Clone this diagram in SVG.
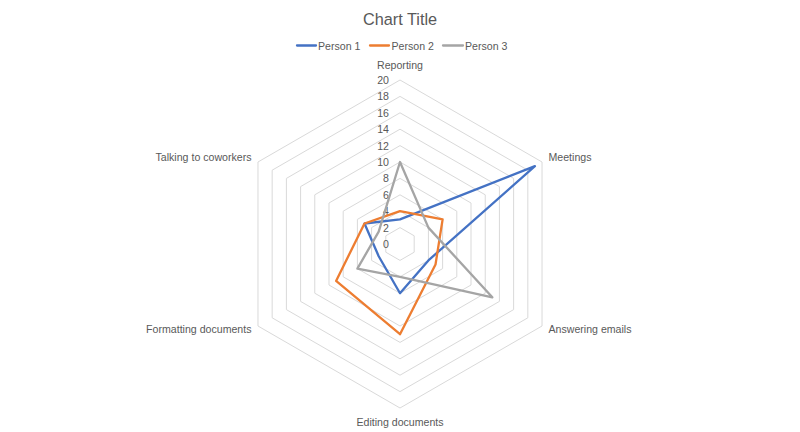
<svg xmlns="http://www.w3.org/2000/svg" width="800" height="432" viewBox="0 0 800 432">
<style>
text{font-family:"Liberation Sans",Arial,sans-serif;fill:#595959}
.t{font-size:16.3px}
.l{font-size:10.6px}
.v{font-size:10.6px;text-anchor:end}
.g{fill:none;stroke:#d9d9d9;stroke-width:1}
.s{fill:none;stroke-width:2.3;stroke-linejoin:round;stroke-linecap:round}
.p1{stroke:#4472c4}.p2{stroke:#ed7d31}.p3{stroke:#a5a5a5}
</style>
<rect width="800" height="432" fill="#fff"/>
<g id="title"><text class="t" x="400" y="25" text-anchor="middle">Chart Title</text></g>
<g id="legend">
<line class="s p1" x1="297" y1="45.5" x2="316" y2="45.5" stroke-linecap="butt"/>
<text class="l" x="318" y="49.5">Person 1</text>
<line class="s p2" x1="370" y1="45.5" x2="389" y2="45.5" stroke-linecap="butt"/>
<text class="l" x="391.5" y="49.5">Person 2</text>
<line class="s p3" x1="443" y1="45.5" x2="463" y2="45.5" stroke-linecap="butt"/>
<text class="l" x="465" y="49.5">Person 3</text>
</g>
<g id="grid">
<polygon class="g" points="400,227.6 414.2,235.8 414.2,252.2 400,260.4 385.8,252.2 385.8,235.8"/>
<polygon class="g" points="400,211.2 428.41,227.6 428.41,260.4 400,276.8 371.59,260.4 371.59,227.6"/>
<polygon class="g" points="400,194.8 442.61,219.4 442.61,268.6 400,293.2 357.39,268.6 357.39,219.4"/>
<polygon class="g" points="400,178.4 456.81,211.2 456.81,276.8 400,309.6 343.19,276.8 343.19,211.2"/>
<polygon class="g" points="400,162 471.01,203 471.01,285 400,326 328.99,285 328.99,203"/>
<polygon class="g" points="400,145.6 485.22,194.8 485.22,293.2 400,342.4 314.78,293.2 314.78,194.8"/>
<polygon class="g" points="400,129.2 499.42,186.6 499.42,301.4 400,358.8 300.58,301.4 300.58,186.6"/>
<polygon class="g" points="400,112.8 513.62,178.4 513.62,309.6 400,375.2 286.38,309.6 286.38,178.4"/>
<polygon class="g" points="400,96.4 527.83,170.2 527.83,317.8 400,391.6 272.17,317.8 272.17,170.2"/>
<polygon class="g" points="400,80 542.03,162 542.03,326 400,408 257.97,326 257.97,162"/>
</g>
<g id="value-labels">
<text class="v" x="389" y="84">20</text>
<text class="v" x="389" y="100.4">18</text>
<text class="v" x="389" y="116.8">16</text>
<text class="v" x="389" y="133.2">14</text>
<text class="v" x="389" y="149.6">12</text>
<text class="v" x="389" y="166">10</text>
<text class="v" x="389" y="182.4">8</text>
<text class="v" x="389" y="198.8">6</text>
<text class="v" x="389" y="215.2">4</text>
<text class="v" x="389" y="231.6">2</text>
<text class="v" x="389" y="248">0</text>
</g>
<g id="category-labels">
<text class="l" x="400" y="69" text-anchor="middle">Reporting</text>
<text class="l" x="548.5" y="161">Meetings</text>
<text class="l" x="548.5" y="333">Answering emails</text>
<text class="l" x="400" y="425.5" text-anchor="middle">Editing documents</text>
<text class="l" x="251.5" y="333" text-anchor="end">Formatting documents</text>
<text class="l" x="251.5" y="161" text-anchor="end">Talking to coworkers</text>
</g>
<g id="series">
<polygon id="person1" class="s p1" points="400,219.4 534.93,166.1 428.41,260.4 400,293.2 378.7,256.3 364.49,223.5"/>
<polygon id="person2" class="s p2" points="400,211.2 442.61,219.4 435.51,264.5 400,334.2 336.09,280.9 364.49,223.5"/>
<polygon id="person3" class="s p3" points="400,162 428.41,227.6 492.32,297.3 400,276.8 357.39,268.6 378.7,231.7"/>
</g>
</svg>
